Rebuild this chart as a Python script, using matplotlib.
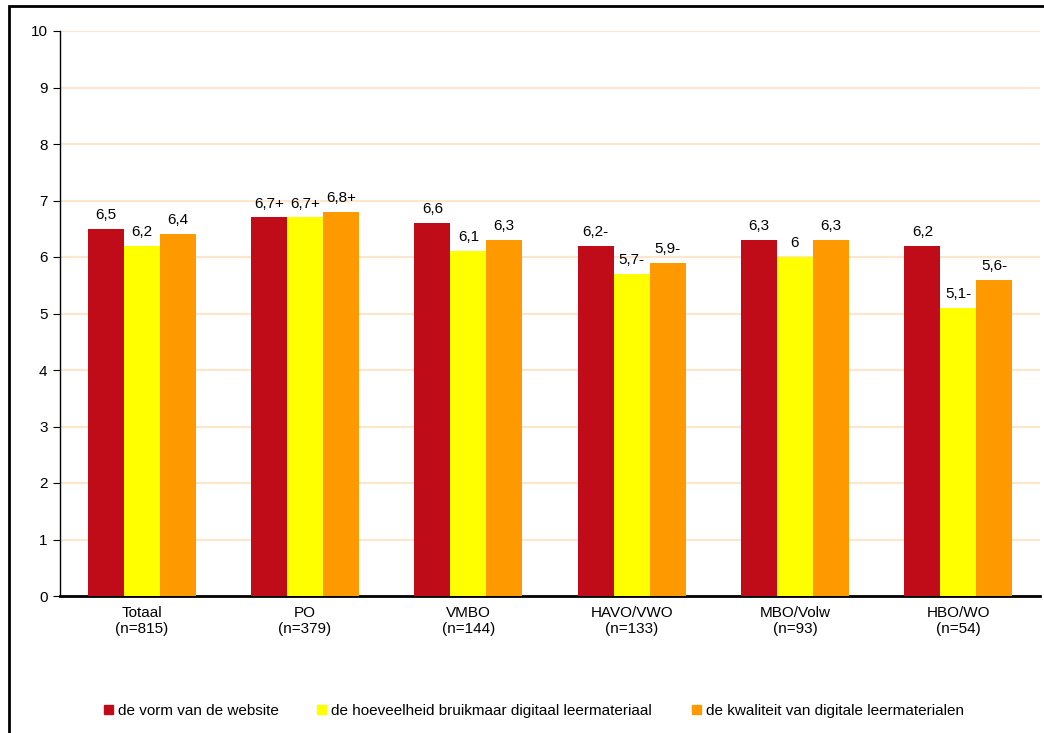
import matplotlib.pyplot as plt
from matplotlib.patches import Rectangle, Patch
import numpy as np

plt.rcParams['font.family'] = ['Liberation Sans', 'DejaVu Sans']

categories = ['Totaal\n(n=815)', 'PO\n(n=379)', 'VMBO\n(n=144)', 'HAVO/VWO\n(n=133)',
              'MBO/Volw\n(n=93)', 'HBO/WO\n(n=54)']
series_names = ['de vorm van de website',
                'de hoeveelheid bruikmaar digitaal leermateriaal',
                'de kwaliteit van digitale leermaterialen']
vorm = [6.5, 6.7, 6.6, 6.2, 6.3, 6.2]
hoeveelheid = [6.2, 6.7, 6.1, 5.7, 6.0, 5.1]
kwaliteit = [6.4, 6.8, 6.3, 5.9, 6.3, 5.6]
vorm_labels = ['6,5', '6,7+', '6,6', '6,2-', '6,3', '6,2']
hoeveelheid_labels = ['6,2', '6,7+', '6,1', '5,7-', '6', '5,1-']
kwaliteit_labels = ['6,4', '6,8+', '6,3', '5,9-', '6,3', '5,6-']
colors = ['#C00C18', '#FFFF00', '#FF9900']

fig = plt.figure(figsize=(10.44, 7.33), dpi=100)
ax = fig.add_axes([60 / 1044, 1 - 596 / 733, 980 / 1044, 565 / 733])

# frame around the chart (runs off the right and bottom edge)
fig.patches.append(Rectangle((9 / 1044, -0.1), 1.2, 1 - 6 / 733 + 0.1,
                             transform=fig.transFigure, fill=False,
                             edgecolor='black', linewidth=2))

x = np.arange(len(categories))
w = 0.22
all_vals = [vorm, hoeveelheid, kwaliteit]
all_labels = [vorm_labels, hoeveelheid_labels, kwaliteit_labels]
for i, (vals, labs) in enumerate(zip(all_vals, all_labels)):
    pos = x + (i - 1) * w
    ax.bar(pos, vals, w, color=colors[i], zorder=3)
    for px, v, t in zip(pos, vals, labs):
        ax.annotate(t, (px, v), xytext=(0, 5), textcoords='offset points',
                    ha='center', va='bottom', fontsize=11)

ax.set_xlim(-0.5, len(categories) - 0.5)
ax.set_ylim(0, 10)
ax.set_yticks(range(11))
ax.set_xticks(x)
ax.set_xticklabels(categories, fontsize=11)
ax.tick_params(axis='x', length=0, pad=7)
ax.tick_params(axis='y', labelsize=11, length=5, direction='out', pad=4)
ax.yaxis.grid(True, color='#FDE6CC', linewidth=1.5, zorder=0)
ax.set_axisbelow(True)
for s in ['top', 'right']:
    ax.spines[s].set_visible(False)
ax.spines['bottom'].set_linewidth(2)
ax.spines['left'].set_linewidth(1)

# legend entries placed like the original
legend_x = [104 / 1044, 317 / 1044, 692 / 1044]
for name, c, lx in zip(series_names, colors, legend_x):
    fig.legend(handles=[Patch(color=c, label=name)], loc='center left',
               bbox_to_anchor=(lx, 1 - 711 / 733), frameon=False, fontsize=11,
               handlelength=0.6, handleheight=0.6, handletextpad=0.3,
               borderpad=0, borderaxespad=0)

fig.savefig('out.png', dpi=100)
